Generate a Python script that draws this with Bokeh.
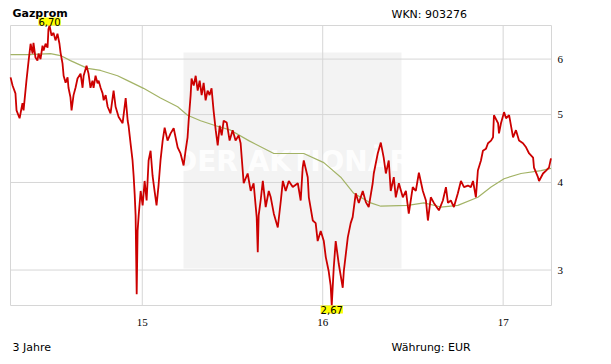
import math
from bokeh.plotting import figure
from bokeh.models import (Range1d, Label, LabelSet, BoxAnnotation, ColumnDataSource)
from bokeh.embed import file_html
from bokeh.resources import INLINE

# ---------------- data ----------------
title_text = "Gazprom"
wkn_text = "WKN: 903276"
period_text = "3 Jahre"
currency_text = "Währung: EUR"
watermark_text = "DER AKTIONÄR"

x_ticks = [2015, 2016, 2017]
x_tick_labels = ["15", "16", "17"]
y_ticks = [3, 4, 5, 6]
y_tick_labels = ["3", "4", "5", "6"]
x_window = (2014.2696, 2017.268)

price_year = [
    2014.270, 2014.281, 2014.297, 2014.303, 2014.320, 2014.336, 2014.342, 2014.358,
    2014.370, 2014.381, 2014.392, 2014.397, 2014.408, 2014.419, 2014.425, 2014.436,
    2014.447, 2014.453, 2014.464, 2014.475, 2014.480, 2014.486, 2014.497, 2014.508,
    2014.519, 2014.530, 2014.541, 2014.547, 2014.558, 2014.564, 2014.575, 2014.586,
    2014.591, 2014.602, 2014.608, 2014.619, 2014.630, 2014.641, 2014.658, 2014.669,
    2014.675, 2014.691, 2014.702, 2014.713, 2014.724, 2014.730, 2014.741, 2014.752,
    2014.758, 2014.769, 2014.780, 2014.786, 2014.797, 2014.808, 2014.824, 2014.841,
    2014.852, 2014.869, 2014.891, 2014.908, 2014.919, 2014.924, 2014.930, 2014.935,
    2014.946, 2014.952, 2014.958, 2014.963, 2014.969, 2014.974, 2014.980, 2014.991,
    2015.002, 2015.013, 2015.024, 2015.035, 2015.046, 2015.057, 2015.068, 2015.079,
    2015.090, 2015.101, 2015.113, 2015.124, 2015.140, 2015.157, 2015.174, 2015.196,
    2015.212, 2015.229, 2015.240, 2015.251, 2015.257, 2015.268, 2015.273, 2015.285,
    2015.296, 2015.307, 2015.318, 2015.329, 2015.340, 2015.351, 2015.362, 2015.373,
    2015.384, 2015.395, 2015.407, 2015.418, 2015.429, 2015.440, 2015.451, 2015.468,
    2015.484, 2015.501, 2015.517, 2015.534, 2015.545, 2015.562, 2015.584, 2015.601,
    2015.617, 2015.634, 2015.640, 2015.645, 2015.656, 2015.668, 2015.684, 2015.701,
    2015.712, 2015.729, 2015.751, 2015.768, 2015.779, 2015.795, 2015.812, 2015.834,
    2015.862, 2015.878, 2015.889, 2015.895, 2015.917, 2015.923, 2015.945, 2015.961,
    2015.972, 2015.989, 2016.006, 2016.017, 2016.033, 2016.044, 2016.050, 2016.061,
    2016.072, 2016.089, 2016.111, 2016.117, 2016.139, 2016.155, 2016.166, 2016.183,
    2016.200, 2016.222, 2016.239, 2016.255, 2016.277, 2016.283, 2016.305, 2016.322,
    2016.338, 2016.350, 2016.366, 2016.377, 2016.394, 2016.405, 2016.422, 2016.444,
    2016.461, 2016.477, 2016.499, 2016.516, 2016.533, 2016.555, 2016.572, 2016.583,
    2016.599, 2016.616, 2016.644, 2016.666, 2016.683, 2016.694, 2016.710, 2016.727,
    2016.749, 2016.766, 2016.783, 2016.805, 2016.821, 2016.833, 2016.849, 2016.860,
    2016.877, 2016.888, 2016.905, 2016.916, 2016.933, 2016.944, 2016.949, 2016.972,
    2016.977, 2016.988, 2017.005, 2017.016, 2017.033, 2017.055, 2017.071, 2017.088,
    2017.110, 2017.127, 2017.144, 2017.166, 2017.171, 2017.193, 2017.199, 2017.221,
    2017.238, 2017.254, 2017.265,
]
price_eur = [
    5.65, 5.50, 5.36, 5.07, 4.94, 5.19, 5.07, 5.59,
    5.97, 6.31, 6.11, 6.33, 6.03, 5.97, 6.11, 6.00,
    6.27, 6.17, 6.31, 6.23, 6.62, 6.70, 6.48, 6.54,
    6.38, 6.52, 6.31, 6.13, 5.91, 5.68, 5.55, 5.65,
    5.46, 5.29, 5.07, 5.33, 5.46, 5.63, 5.72, 5.46,
    5.68, 5.87, 5.72, 5.46, 5.59, 5.46, 5.68, 5.54,
    5.59, 5.46, 5.36, 5.24, 5.33, 5.13, 5.02, 5.41,
    5.13, 4.96, 4.86, 5.28, 4.90, 4.82, 4.67, 4.55,
    4.30, 4.09, 3.84, 3.59, 2.77, 3.41, 3.59, 3.89,
    3.71, 4.02, 3.77, 4.30, 4.44, 4.09, 3.89, 3.71,
    3.96, 4.30, 4.59, 4.79, 4.59, 4.70, 4.78, 4.49,
    4.40, 4.23, 4.44, 4.64, 4.90, 5.33, 5.63, 5.50,
    5.68, 5.41, 5.59, 5.33, 5.55, 5.24, 5.41, 5.33,
    5.45, 5.07, 4.75, 4.52, 4.82, 4.67, 4.90, 4.87,
    4.59, 4.75, 4.59, 4.67, 4.55, 3.99, 4.12, 3.89,
    3.99, 3.57, 3.18, 3.59, 3.77, 4.02, 3.69, 3.89,
    3.81, 3.61, 3.45, 3.77, 4.02, 3.89, 4.02, 3.94,
    3.99, 3.77, 4.20, 4.30, 4.07, 3.81, 3.53, 3.50,
    3.30, 3.41, 3.30, 3.13, 2.99, 2.85, 2.67, 3.02,
    3.30, 3.06, 2.83, 2.99, 3.34, 3.50, 3.57, 3.86,
    3.74, 3.89, 3.75, 3.69, 3.99, 4.12, 4.40, 4.56,
    4.34, 4.12, 4.30, 3.89, 4.07, 3.81, 3.99, 3.81,
    3.89, 3.61, 3.94, 3.89, 4.13, 3.89, 3.77, 3.53,
    3.81, 3.74, 3.65, 3.77, 3.94, 3.74, 3.77, 3.69,
    3.86, 4.02, 3.94, 3.96, 3.94, 4.02, 3.81, 4.16,
    4.30, 4.44, 4.47, 4.55, 4.59, 4.64, 4.99, 4.86,
    4.70, 4.86, 5.04, 4.94, 4.99, 4.64, 4.75, 4.59,
    4.55, 4.49, 4.40, 4.34, 4.20, 4.07, 4.02, 4.12,
    4.16, 4.20, 4.33,
]

ma_year = [2014.270, 2014.370, 2014.491, 2014.547, 2014.602, 2014.697, 2014.769,
           2014.863, 2014.919, 2015.007, 2015.101, 2015.196, 2015.251, 2015.323,
           2015.407, 2015.490, 2015.590, 2015.729, 2015.895, 2016.006, 2016.100,
           2016.172, 2016.266, 2016.322, 2016.472, 2016.561, 2016.655, 2016.749,
           2016.860, 2016.933, 2017.005, 2017.099, 2017.210, 2017.265]
ma_eur = [6.09, 6.09, 6.11, 6.07, 5.97, 5.82, 5.78,
          5.68, 5.59, 5.45, 5.28, 5.13, 4.99, 4.90,
          4.82, 4.75, 4.59, 4.40, 4.40, 4.27, 4.07,
          3.86, 3.74, 3.70, 3.71, 3.74, 3.69, 3.71,
          3.81, 3.94, 4.05, 4.12, 4.16, 4.19]

# ---------------- layout (pixels) ----------------
W, H = 611, 364
PL, PR, PT, PB = 10, 551, 25, 305          # plot box on the canvas
FONT = "DejaVu Sans"
GRID = "#d6d6d6"
RED = "#cc0000"
OLIVE = "#a3b366"

v_max = max(price_eur)
v_min = min(price_eur)
x_of_max = price_year[price_eur.index(v_max)]
x_of_min = price_year[price_eur.index(v_min)]

# extend the ranges so that the data window lands on the plot box
dx = (x_window[1] - x_window[0]) / (PR - PL)
x_rng = Range1d(x_window[0] - PL * dx, x_window[1] + (W - PR) * dx)
l0, l1 = math.log(v_min), math.log(v_max)
dl = (l1 - l0) / (PB - PT)
y_rng = Range1d(math.exp(l0 - (H - PB) * dl), math.exp(l1 + PT * dl))

p = figure(width=W, height=H, output_backend="svg", toolbar_location=None,
           y_axis_type="log", x_axis_location=None, y_axis_location=None,
           x_range=x_rng, y_range=y_rng, min_border=0)
p.background_fill_color = "white"
p.border_fill_color = "white"
p.outline_line_color = None
p.grid.visible = False

def sy(canvas_y):          # canvas (top-down) pixel -> screen units (bottom-up)
    return H - canvas_y

# watermark box and text
p.add_layout(BoxAnnotation(left=183, right=401, top=sy(52), bottom=sy(268),
                           left_units="screen", right_units="screen",
                           top_units="screen", bottom_units="screen",
                           fill_color="#f3f3f3", fill_alpha=1.0,
                           line_alpha=0, level="image"))
p.add_layout(Label(x=292, y=sy(161), x_units="screen", y_units="screen",
                   text=watermark_text, text_color="white", text_alpha=0.9,
                   text_font=FONT, text_font_size="28px", text_font_style="bold",
                   text_align="center", text_baseline="middle", level="image"))

# grid lines + frame
p.segment(x0=x_ticks, x1=x_ticks, y0=[v_min] * len(x_ticks), y1=[v_max] * len(x_ticks),
          line_color=GRID, line_width=1)
p.segment(x0=[x_window[0]] * len(y_ticks), x1=[x_window[1]] * len(y_ticks),
          y0=y_ticks, y1=y_ticks, line_color=GRID, line_width=1)
p.quad(left=[x_window[0]], right=[x_window[1]], bottom=[v_min], top=[v_max],
       fill_alpha=0, line_color=GRID, line_width=1)

# series
src = ColumnDataSource(dict(x=price_year, y=price_eur))
ma_src = ColumnDataSource(dict(x=ma_year, y=ma_eur))
p.line("x", "y", source=ma_src, line_color=OLIVE, line_width=1.2)
p.line("x", "y", source=src, line_color=RED, line_width=1.8)

# tick labels
xt_src = ColumnDataSource(dict(x=x_ticks, t=x_tick_labels))
p.add_layout(LabelSet(x="x", y=sy(322), text="t", source=xt_src,
                      x_units="data", y_units="screen",
                      text_font=FONT, text_font_size="11px", text_color="black",
                      text_align="center", text_baseline="middle"))
yt_src = ColumnDataSource(dict(y=y_ticks, t=y_tick_labels))
p.add_layout(LabelSet(x=557, y="y", text="t", source=yt_src,
                      x_units="screen", y_units="data",
                      text_font=FONT, text_font_size="11px", text_color="black",
                      text_align="left", text_baseline="middle"))

# header / footer texts
def screen_label(x, y, text, bold=False, size="11px"):
    return Label(x=x, y=sy(y), x_units="screen", y_units="screen", text=text,
                 text_font=FONT, text_font_size=size,
                 text_font_style="bold" if bold else "normal",
                 text_color="black", text_align="left", text_baseline="middle")

p.add_layout(screen_label(12, 13, title_text, bold=True, size="11px"))
p.add_layout(screen_label(391, 14, wkn_text))
p.add_layout(screen_label(12, 347, period_text))
p.add_layout(screen_label(391, 347, currency_text))

# max / min markers
fmt = lambda v: f"{v:.2f}".replace(".", ",")
p.add_layout(Label(x=x_of_max, y=v_max, text=fmt(v_max), text_align="center",
                   text_baseline="bottom", text_font=FONT,
                   text_font_size="10px", text_color="black",
                   background_fill_color="#ffff00"))
p.add_layout(Label(x=x_of_min, y=v_min, text=fmt(v_min), text_align="center",
                   text_baseline="top", text_font=FONT,
                   text_font_size="10px", text_color="black",
                   background_fill_color="#ffff00"))

open("out.html", "w").write(file_html(p, INLINE))
